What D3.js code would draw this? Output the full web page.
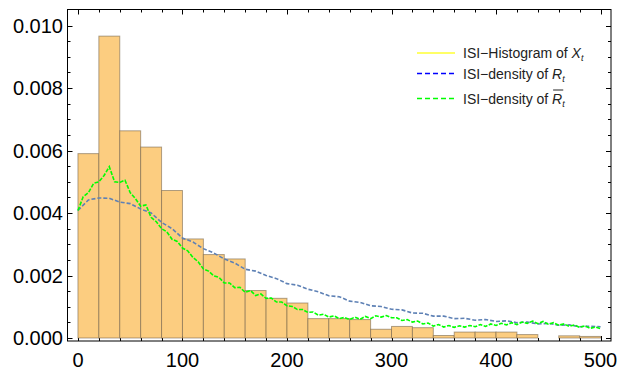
<!DOCTYPE html>
<html><head><meta charset="utf-8">
<script src="https://cdn.jsdelivr.net/npm/d3@7/dist/d3.min.js"></script>
<style>body{margin:0;background:#fff}svg{display:block}</style>
</head><body><svg id="chart" width="617" height="371"></svg>
<script>
// ---------- data ----------
const binStarts = [0,20,40,60,80,100,120,140,160,180,200,220,240,260,280,300,320,340,360,380,400,420,440,460,480];
const binWidth = 20;
const histValues = [0.00590,0.00966,0.00663,0.00611,0.00472,0.00317,0.00267,0.00253,0.00152,0.00127,0.00112,0.00062,0.00062,0.00059,0.00028,0.00037,0.00033,0.00008,0.00019,0.00019,0.00019,0.00011,0,0.00007,0.00005];

const greenStep = 5;
const greenValues = [0.00408,0.00452,0.00465,0.00495,0.00500,0.00520,0.00548,0.00500,0.00498,0.00505,
 0.00465,0.00446,0.00422,0.00426,0.00386,0.00372,0.00350,0.00340,0.00316,0.00309,
 0.00288,0.00279,0.00258,0.00244,0.00221,0.00214,0.00199,0.00194,0.00176,0.00176,
 0.00161,0.00162,0.00146,0.00152,0.00136,0.00141,0.00127,0.00128,0.00115,0.00115,
 0.00103,0.00101,0.00091,0.00091,0.00082,0.00083,0.00073,0.00076,0.00067,0.00071,
 0.00062,0.00066,0.00059,0.00067,0.00060,0.00069,0.00062,0.00071,0.00067,0.00072,
 0.00065,0.00065,0.00056,0.00059,0.00051,0.00054,0.00045,0.00048,0.00038,0.00043,
 0.00035,0.00040,0.00034,0.00039,0.00035,0.00040,0.00036,0.00043,0.00037,0.00045,
 0.00040,0.00047,0.00042,0.00049,0.00043,0.00051,0.00047,0.00054,0.00046,0.00053,
 0.00044,0.00049,0.00041,0.00045,0.00037,0.00042,0.00034,0.00039,0.00031,0.00035,0.00030];

const blueStep = 10;
const blueValues = [0.00408,0.00442,0.00448,0.00447,0.00435,0.00430,0.00413,0.00400,0.00370,0.00350,
 0.00320,0.00307,0.00286,0.00272,0.00253,0.00240,0.00220,0.00214,0.00200,0.00190,
 0.00174,0.00169,0.00156,0.00148,0.00135,0.00132,0.00118,0.00114,0.00103,0.00101,
 0.00092,0.00090,0.00080,0.00079,0.00070,0.00070,0.00062,0.00063,0.00057,0.00059,
 0.00053,0.00055,0.00049,0.00051,0.00045,0.00047,0.00041,0.00042,0.00036,0.00038,0.00036];

const xTicks = [0,100,200,300,400,500];
const yTicks = [0,0.002,0.004,0.006,0.008,0.010];
const yTickLabels = ["0.000","0.002","0.004","0.006","0.008","0.010"];
const legendLabels = [
  {main:"ISI\u2212Histogram of ", sym:"X", sub:"t", bar:false},
  {main:"ISI\u2212density of ", sym:"R", sub:"t", bar:false},
  {main:"ISI\u2212density of ", sym:"R", sub:"t", bar:true}
];

// ---------- layout ----------
const L = 67.5, R = 611, T = 9.5, B = 341;
const x = d3.scaleLinear().domain([-10, 510]).range([L, R]);
const y = d3.scaleLinear().domain([-0.000096, 0.010512]).range([B, T]);

const svg = d3.select("#chart");
const font = "'Liberation Sans', Arial, sans-serif";

// ticks (inward) - drawn under bars
const tk = svg.append("g").attr("stroke", "#000").attr("stroke-width", 1);
const xMinor = d3.range(0, 501, 20);
xMinor.forEach(v => {
  const len = (v % 100 === 0) ? 5 : 3;
  const px = Math.round(x(v)) + 0.5;
  tk.append("line").attr("x1", px).attr("x2", px).attr("y1", B).attr("y2", B - len);
  tk.append("line").attr("x1", px).attr("x2", px).attr("y1", T).attr("y2", T + len);
});
const yMinor = d3.range(0, 0.0105, 0.0005);
yMinor.forEach((v, i) => {
  const len = (i % 4 === 0) ? 5 : 3;
  const py = Math.round(y(v)) + 0.5;
  tk.append("line").attr("x1", L).attr("x2", L + len).attr("y1", py).attr("y2", py);
  tk.append("line").attr("x1", R).attr("x2", R - len).attr("y1", py).attr("y2", py);
});

// bars
const bars = svg.append("g");
bars.selectAll("rect").data(histValues.map((v, i) => ({x0: binStarts[i], v})).filter(d => d.v > 0))
  .enter().append("rect")
  .attr("x", d => x(d.x0))
  .attr("width", d => x(d.x0 + binWidth) - x(d.x0))
  .attr("y", d => y(d.v))
  .attr("height", d => y(0) - y(d.v))
  .attr("fill", "#fccd80")
  .attr("stroke", "#6e5c45")
  .attr("stroke-opacity", 0.55)
  .attr("stroke-width", 1);

// lines
const line = d3.line().x(d => x(d[0])).y(d => y(d[1]));
const blueData = blueValues.map((v, i) => [i * blueStep, v]);
const greenData = greenValues.map((v, i) => [i * greenStep, v]);
svg.append("path").attr("d", line(blueData)).attr("fill", "none")
  .attr("stroke", "#5e81b5").attr("stroke-width", 1.6).attr("stroke-dasharray", "4,2");
svg.append("path").attr("d", line(greenData)).attr("fill", "none")
  .attr("stroke", "#00ff00").attr("stroke-width", 1.6).attr("stroke-dasharray", "4,1.5");

// frame
svg.append("rect").attr("x", L).attr("y", T).attr("width", R - L).attr("height", B - T)
  .attr("fill", "none").attr("stroke", "#000").attr("stroke-width", 1);

// tick labels
svg.append("g").selectAll("text").data(xTicks).enter().append("text")
  .attr("x", d => x(d)).attr("y", 367).attr("text-anchor", "middle")
  .attr("font-family", font).attr("font-size", 20).attr("fill", "#000").text(d => d);
svg.append("g").selectAll("text").data(yTicks).enter().append("text")
  .attr("x", 63).attr("y", d => y(d) + 7).attr("text-anchor", "end")
  .attr("font-family", font).attr("font-size", 20).attr("fill", "#000")
  .text((d, i) => yTickLabels[i]);

// legend
const legY = [53, 73.5, 98.5];
const legStyles = [
  {color: "#ffff33", dash: null},
  {color: "#0000ff", dash: "5,3"},
  {color: "#00ff00", dash: "5,3"}
];
legendLabels.forEach((lab, i) => {
  const g = svg.append("g");
  g.append("line").attr("x1", 417).attr("x2", 455).attr("y1", legY[i]).attr("y2", legY[i])
    .attr("stroke", legStyles[i].color).attr("stroke-width", 1.3)
    .attr("stroke-dasharray", legStyles[i].dash);
  const t = g.append("text").attr("x", 463).attr("y", legY[i] + 5)
    .attr("font-family", font).attr("font-size", 14).attr("fill", "#222");
  t.append("tspan").text(lab.main);
  t.append("tspan").attr("font-style", "italic").text(lab.sym);
  t.append("tspan").attr("font-style", "italic").attr("font-size", 9).attr("dy", 3).text(lab.sub);
  if (lab.bar) {
    const node = t.node();
    const start = 463 + node.getSubStringLength(0, lab.main.length);
    const w = node.getSubStringLength(lab.main.length, 1);
    g.append("line").attr("x1", start + 1).attr("x2", start + w + 1)
      .attr("y1", legY[i] - 8.5).attr("y2", legY[i] - 8.5)
      .attr("stroke", "#222").attr("stroke-width", 1);
  }
});
</script></body></html>
